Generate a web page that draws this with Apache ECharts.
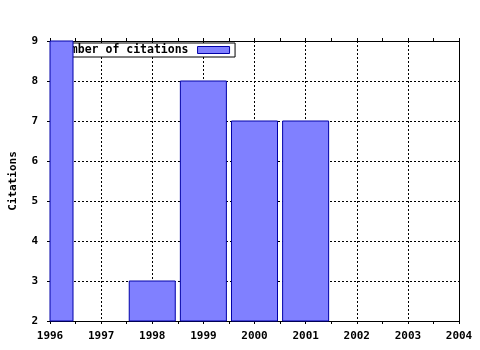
<!DOCTYPE html>
<html><head><meta charset="utf-8">
<script src="https://cdn.jsdelivr.net/npm/echarts@6/dist/echarts.min.js"></script>
<style>html,body{margin:0;padding:0;background:#fff}#c{width:480px;height:350px}</style>
</head><body><div id="c"></div>
<script>
var years = [1996, 1998, 1999, 2000, 2001];
var citations = [9, 3, 8, 7, 7];
var xRange = [1996, 2004];
var yRange = [2, 9];
var seriesName = 'Number of citations';
var yTitle = 'Citations';

var font = 'DejaVu Sans Mono';
var chart = echarts.init(document.getElementById('c'), null, {renderer: 'canvas'});
var pts = years.map(function (y, i) { return [y, citations[i]]; });
var dotted = {show: true, lineStyle: {color: '#000', type: [2, 2], width: 1}};
var lineAx = {show: true, onZero: false, lineStyle: {color: '#000', width: 1}};
var tick = {show: true, inside: false, length: 3, lineStyle: {color: '#000'}};
var minor = {show: true, splitNumber: 2, length: 3, lineStyle: {color: '#000'}};
var BAR_RATIO = 0.9;
function renderBar(params, api) {
  var x = api.value(0), v = api.value(1);
  var top = api.coord([x, v]);
  var base = api.coord([x, 0]);
  var w = api.size([1, 0])[0] * BAR_RATIO;
  var cs = params.coordSys;
  var shape = echarts.graphic.clipRectByRect(
    {x: top[0] - w / 2, y: top[1], width: w, height: base[1] - top[1]},
    {x: cs.x, y: cs.y, width: cs.width, height: cs.height});
  if (!shape) return null;
  return {type: 'rect', shape: shape,
    style: {fill: '#8080ff', stroke: '#0000a8', lineWidth: 1}};
}
chart.setOption({
  animation: false,
  backgroundColor: '#fff',
  grid: {left: 50, right: 21, top: 41, bottom: 29, containLabel: false, outerBoundsMode: 'none'},
  legend: {
    show: true, left: 53, top: 43, z: 1, align: 'right',
    data: [seriesName], icon: 'rect', itemWidth: 32, itemHeight: 7,
    backgroundColor: '#fff', borderColor: '#000', borderWidth: 1,
    padding: [1, 5, 1, 4],
    textStyle: {fontFamily: font, fontWeight: 'bold', fontSize: 11.5, color: '#000', lineHeight: 11, padding: [0, 4, 0, 0]},
    itemStyle: {color: '#8080ff', borderColor: '#0000a8', borderWidth: 1}
  },
  xAxis: [{
    type: 'value', min: xRange[0], max: xRange[1], interval: 1, position: 'bottom',
    axisLine: lineAx, axisTick: tick, minorTick: minor, splitLine: dotted,
    axisLabel: {fontFamily: font, fontWeight: 'bold', fontSize: 11, color: '#000', margin: 10,
      formatter: function (v) { return String(v); }}
  }, {
    type: 'value', min: xRange[0], max: xRange[1], interval: 1, position: 'top',
    axisLine: lineAx, axisTick: tick, minorTick: minor,
    splitLine: {show: false}, axisLabel: {show: false}
  }],
  yAxis: [{
    type: 'value', min: yRange[0], max: yRange[1], interval: 1, position: 'left',
    name: yTitle, nameLocation: 'middle', nameGap: 31, nameRotate: 90,
    nameTextStyle: {fontFamily: font, fontWeight: 'bold', fontSize: 11, color: '#000'},
    axisLine: lineAx, axisTick: tick, splitLine: dotted,
    axisLabel: {fontFamily: font, fontWeight: 'bold', fontSize: 11, color: '#000', margin: 12}
  }, {
    type: 'value', min: yRange[0], max: yRange[1], interval: 1, position: 'right',
    axisLine: lineAx, axisTick: {show: false}, splitLine: {show: false}, axisLabel: {show: false}
  }],
  series: [{
    type: 'custom', name: seriesName, xAxisIndex: 0, yAxisIndex: 0,
    data: pts, encode: {x: 0, y: 1}, renderItem: renderBar, z: 2,
    itemStyle: {color: '#8080ff'}
  }]
});
</script></body></html>
